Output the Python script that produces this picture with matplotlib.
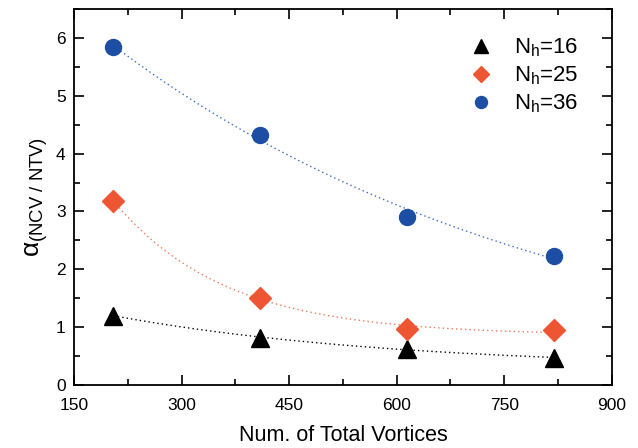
import numpy as np
import matplotlib
matplotlib.use("Agg")
import matplotlib.pyplot as plt
from matplotlib.ticker import MultipleLocator

plt.rcParams["font.family"] = ["Liberation Sans", "DejaVu Sans"]
plt.rcParams["mathtext.fontset"] = "custom"
plt.rcParams["mathtext.rm"] = "Liberation Sans"
plt.rcParams["mathtext.it"] = "Liberation Sans:italic"

# data
total_vortices = [205, 410, 615, 820]
alpha_nh16 = [1.20, 0.82, 0.62, 0.47]
alpha_nh25 = [3.18, 1.51, 0.96, 0.95]
alpha_nh36 = [5.84, 4.33, 2.91, 2.23]
labels = [r"N$_\mathrm{h}$=16", r"N$_\mathrm{h}$=25", r"N$_\mathrm{h}$=36"]


def exp_fit(x, y):
    """y = y0 + A*exp(-x/t), scan t, solve y0/A by least squares."""
    x = np.asarray(x, float)
    y = np.asarray(y, float)
    best = None
    for t in np.linspace(50, 3000, 3000):
        M = np.column_stack([np.ones_like(x), np.exp(-x / t)])
        coef, *_ = np.linalg.lstsq(M, y, rcond=None)
        err = np.sum((M @ coef - y) ** 2)
        if best is None or err < best[0]:
            best = (err, t, coef)
    _, t, (y0, A) = best
    xs = np.linspace(x.min(), x.max(), 200)
    return xs, y0 + A * np.exp(-xs / t)


fig = plt.figure(figsize=(6.38, 4.48), dpi=100)
ax = fig.add_axes([0.116, 0.1406, 0.843, 0.8394])

series = [
    (alpha_nh16, "black", "#000000", "^", 13),
    (alpha_nh25, "#ee5533", "#f07a5a", "D", 11),
    (alpha_nh36, "#1c4fa3", "#3a6cc8", "o", 11.5),
]
for (vals, col, lcol, mk, ms), lab in zip(series, labels):
    xs, ys = exp_fit(total_vortices, vals)
    ax.plot(xs, ys, linestyle=(0, (1, 2.2)), color=lcol, lw=1.0, zorder=1)
    ax.plot(total_vortices, vals, linestyle="none", marker=mk, ms=ms,
            color=col, mec=col, label=lab, zorder=3)

ax.set_xlim(150, 900)
ax.set_ylim(0, 6.5)
ax.xaxis.set_major_locator(MultipleLocator(150))
ax.xaxis.set_minor_locator(MultipleLocator(75))
ax.yaxis.set_major_locator(MultipleLocator(1))
ax.yaxis.set_minor_locator(MultipleLocator(0.5))
ax.tick_params(which="both", direction="in", top=True, right=True,
               labelsize=12.5, width=1.2)
ax.tick_params(which="major", length=7)
ax.tick_params(which="minor", length=4)
ax.tick_params(axis="x", pad=9)
ax.tick_params(axis="y", pad=6)
for s in ax.spines.values():
    s.set_linewidth(1.3)

ax.set_xlabel("Num. of Total Vortices", fontsize=15.5, labelpad=9)
ax.set_ylabel(r"α$_{\mathrm{(NCV\ /\ NTV)}}$", fontsize=19, labelpad=4)

ax.legend(loc="upper right", bbox_to_anchor=(0.975, 0.98), frameon=False,
          fontsize=16, markerscale=0.75, handletextpad=0.9, labelspacing=0.25,
          handlelength=1.2)

fig.savefig("out.png", dpi=100)
